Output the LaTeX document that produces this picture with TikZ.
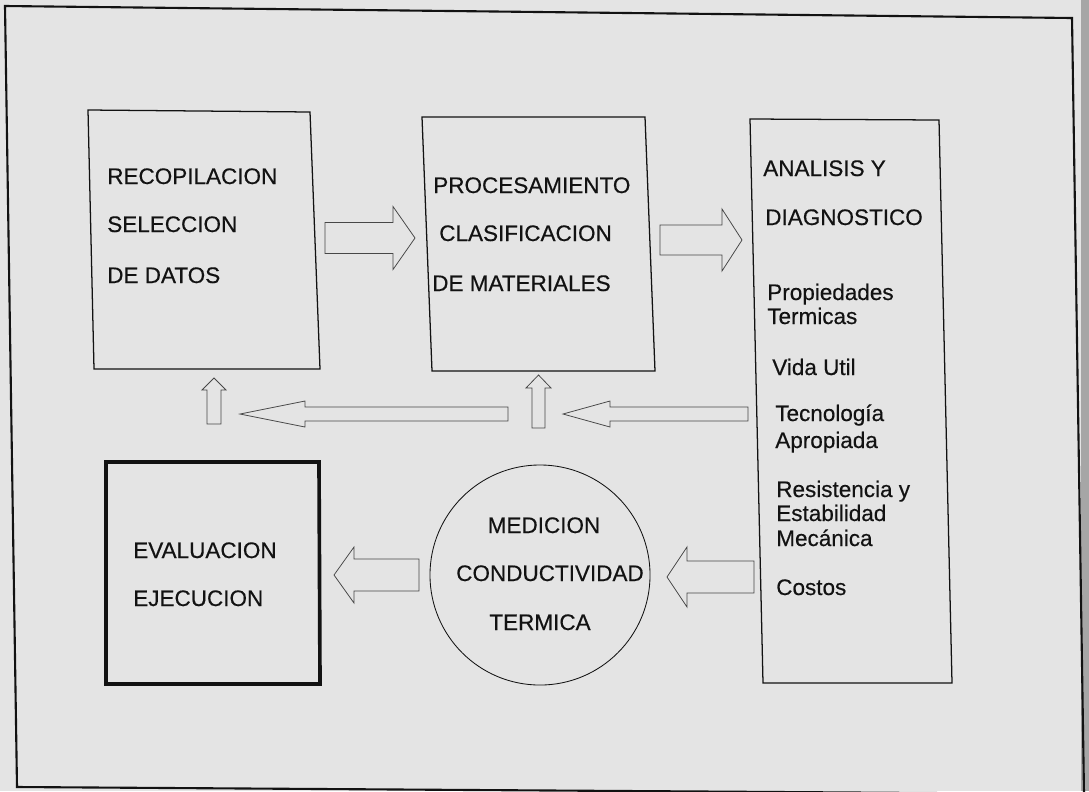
\documentclass[tikz,border=0pt]{standalone}
\usepackage{fontspec}
\setmainfont{Liberation Sans}
\definecolor{paper}{RGB}{228,228,228}
\definecolor{ink}{RGB}{18,18,18}
\tikzset{
  boxline/.style={draw=ink, line width=0.9pt, line join=miter},
  thickline/.style={draw=ink, line width=2.6pt, line join=miter},
  frameline/.style={draw=ink, line width=1.5pt, line join=miter},
  lbl/.style={inner sep=0pt, anchor=base west, font=\fontsize{16}{18}\selectfont\addfontfeature{FakeBold=0.4}, text=ink},
  clbl/.style={lbl, anchor=base},
  barrow/.style={draw=black!72, line width=0.55pt, line join=miter},
}
% horizontal block arrow: tail x, head base x, tip x, centre y, shaft half, head half
\newcommand\harrowshape[6]{%
  \draw[barrow] (#1,#4-#5) -- (#2,#4-#5) -- (#2,#4-#6) -- (#3,#4) -- (#2,#4+#6) -- (#2,#4+#5) -- (#1,#4+#5) -- cycle;}
% vertical block arrow: tail y, head base y, tip y, centre x, shaft half, head half
\newcommand\varrowshape[6]{%
  \draw[barrow] (#4-#5,#1) -- (#4-#5,#2) -- (#4-#6,#2) -- (#4,#3) -- (#4+#6,#2) -- (#4+#5,#2) -- (#4+#5,#1) -- cycle;}
\begin{document}
\begin{tikzpicture}[x=0.025cm, y=-0.025cm]
\useasboundingbox (0,0) rectangle (1089,791);
\clip (0,0) rectangle (1089,791);
\fill[paper] (0,0) rectangle (1089,791);
\fill[black!35] (1081,0) rectangle (1089,791);

% outer frame
\coordinate (F-nw) at (5,6);
\coordinate (F-ne) at (1072,18);
\coordinate (F-se) at (1084,794);
\coordinate (F-sw) at (17,787);
\draw[frameline] (F-nw) -- (F-ne) -- (F-se) -- (F-sw) -- cycle;

% box A
\coordinate (A-nw) at (88,110);
\coordinate (A-ne) at (310,112);
\coordinate (A-se) at (320,369);
\coordinate (A-sw) at (94,369);
\draw[boxline] (A-nw) -- (A-ne) -- (A-se) -- (A-sw) -- cycle;
\node[lbl] (a1) at (107,184) {RECOPILACION};
\node[lbl] (a2) at (107,232) {SELECCION};
\node[lbl] (a3) at (107,283) {DE DATOS};

% box B
\coordinate (B-nw) at (422,117);
\coordinate (B-ne) at (645,117);
\coordinate (B-se) at (655,371);
\coordinate (B-sw) at (432,371);
\draw[boxline] (B-nw) -- (B-ne) -- (B-se) -- (B-sw) -- cycle;
\node[lbl] (b1) at (433,193) {PROCESAMIENTO};
\node[lbl] (b2) at (439,241) {CLASIFICACION};
\node[lbl] (b3) at (432,291) {DE MATERIALES};

% box C
\coordinate (C-nw) at (750,119);
\coordinate (C-ne) at (939,120);
\coordinate (C-se) at (952,683);
\coordinate (C-sw) at (763,683);
\draw[boxline] (C-nw) -- (C-ne) -- (C-se) -- (C-sw) -- cycle;
\node[lbl] (c1) at (763,176) {ANALISIS Y};
\node[lbl] (c2) at (765,225) {DIAGNOSTICO};
\node[lbl] (c3) at (767,300) {Propiedades};
\node[lbl] (c4) at (767,324) {Termicas};
\node[lbl] (c5) at (772,375) {Vida Util};
\node[lbl] (c6) at (775,421) {Tecnología};
\node[lbl] (c7) at (775,448) {Apropiada};
\node[lbl] (c8) at (776,497) {Resistencia y};
\node[lbl] (c9) at (776,521) {Estabilidad};
\node[lbl] (c10) at (776,546) {Mecánica};
\node[lbl] (c11) at (776,595) {Costos};

% evaluation box
\coordinate (E-nw) at (106,462);
\coordinate (E-ne) at (319,462);
\coordinate (E-se) at (320,684);
\coordinate (E-sw) at (106,684);
\draw[thickline] (E-nw) -- (E-ne) -- (E-se) -- (E-sw) -- cycle;
\node[lbl] (e1) at (133,558) {EVALUACION};
\node[lbl] (e2) at (133,606) {EJECUCION};

% measurement ellipse
\node[draw=ink, line width=0.6pt, circle, minimum size=5.5cm, inner sep=0pt] (M) at (540,575) {};
\node[clbl] (m1) at (544,533) {MEDICION};
\node[clbl] (m2) at (550,581) {CONDUCTIVIDAD};
\node[clbl] (m3) at (540,630) {TERMICA};

% block arrows
\harrowshape{325}{393}{415}{238}{15.5}{31.5}
\harrowshape{660}{722}{742}{240}{15}{31}
\varrowshape{424}{390}{378}{214}{7}{12}
\varrowshape{428}{388}{375}{538.5}{6.5}{12.5}
\harrowshape{508}{305}{240}{414}{7}{13}
\harrowshape{748}{610}{563}{414}{7}{13}
\harrowshape{419}{354}{334}{575}{16}{28}
\harrowshape{754}{687}{667}{577}{16}{30}
\end{tikzpicture}
\end{document}
